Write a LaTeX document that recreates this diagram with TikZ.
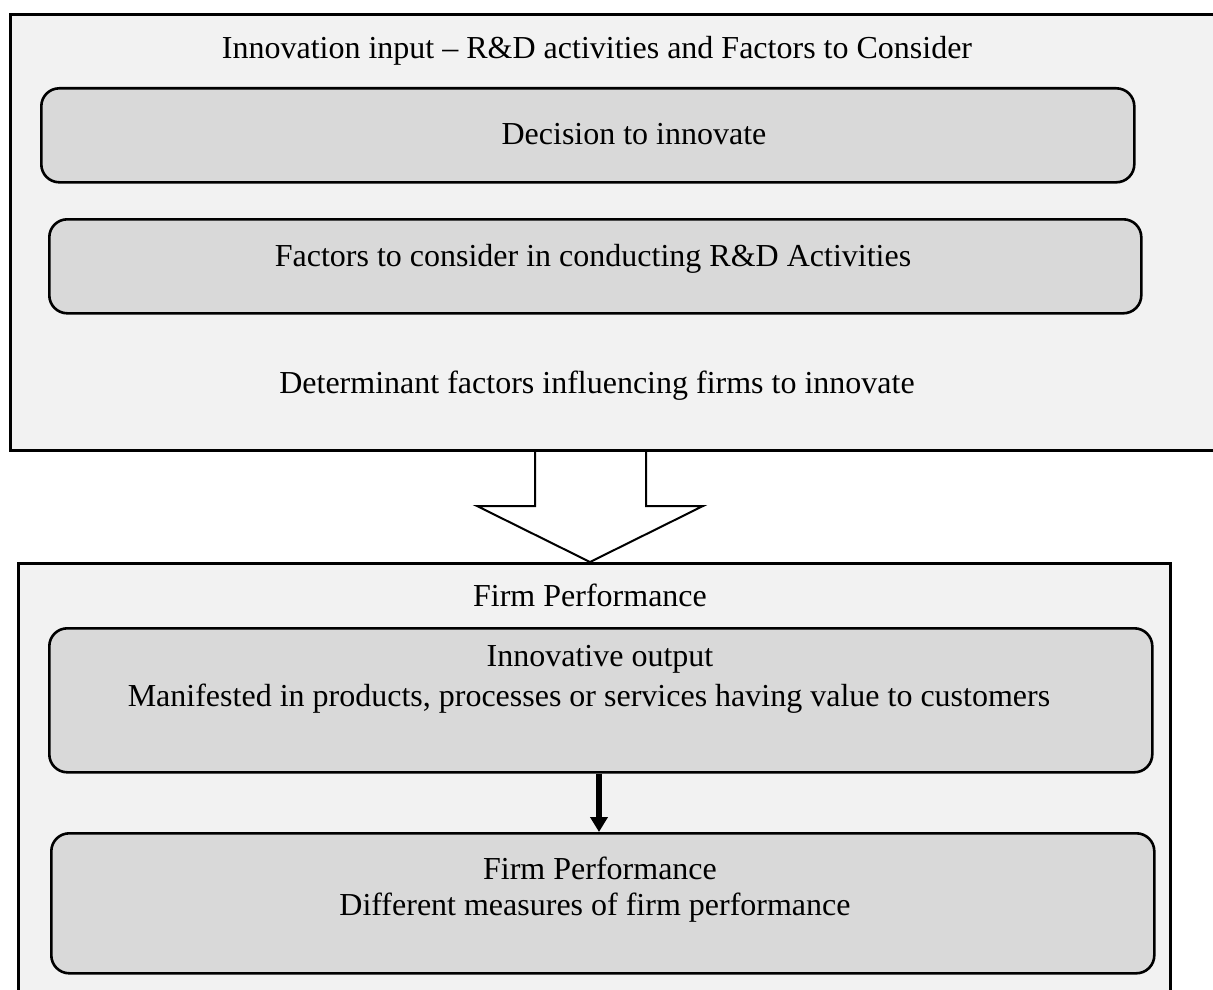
\documentclass[tikz,border=0pt]{standalone}
\usepackage{fontspec}
\setmainfont{Liberation Serif}
\usetikzlibrary{arrows.meta,backgrounds}
\definecolor{panelgray}{HTML}{F2F2F2}
\definecolor{boxgray}{HTML}{D9D9D9}
\begin{document}
\begin{tikzpicture}[x=1pt,y=-1pt,
  panel/.style={draw=black,line width=2.6pt,fill=panelgray,rectangle,
    anchor=north west,inner sep=0pt},
  roundbox/.style={draw=black,line width=2.6pt,fill=boxgray,rectangle,
    rounded corners=18pt,anchor=north west,inner sep=0pt},
  label/.style={inner sep=0pt,anchor=base,font=\fontsize{32}{38}\selectfont},
  flow/.style={line width=6pt,-{Triangle[width=17pt,length=15pt]}}]
  \clip (0,0) rectangle (1213,990);
  \useasboundingbox (0,0) rectangle (1213,990);

  % input panel and its boxes
  \node[panel,minimum width=1230pt,minimum height=436pt] (inpanel) at (9,13) {};
  \node[roundbox,minimum width=1093pt,minimum height=94pt] (decision) at (40,87) {};
  \node[roundbox,minimum width=1092pt,minimum height=94pt] (factors) at (48,218) {};
  \node[label] (inTitle) at (597,59) {Innovation input – R\&D activities and Factors to Consider};
  \node[label] (decTxt) at (634,144) {Decision to innovate};
  \node[label] (facTxt) at (593,266) {Factors to consider in conducting R\&D Activities};
  \node[label] (detTxt) at (597,393) {Determinant factors influencing firms to innovate};

  % performance panel and its boxes
  \node[panel,minimum width=1152pt,minimum height=460pt] (perfpanel) at (17,562) {};
  \node[roundbox,minimum width=1103pt,minimum height=144pt] (output) at (48,627) {};
  \node[roundbox,minimum width=1103pt,minimum height=140pt] (perf) at (50,832) {};
  \node[label] (perfTitle) at (590,606) {Firm Performance};
  \node[label] (outTxt) at (600,666) {Innovative output};
  \node[label] (outSub) at (589,706) {Manifested in products, processes or services having value to customers};
  \node[label] (perfTxt) at (600,879) {Firm Performance};
  \node[label] (perfSub) at (595,915) {Different measures of firm performance};

  % block arrow between the panels
  \begin{scope}[on background layer]
    \fill[white] (535,449) -- (535,506) -- (477,506) -- (590,562)
      -- (703,506) -- (646,506) -- (646,449) -- cycle;
    \draw[line width=2pt,line join=miter] (535,449) -- (535,506) -- (477,506)
      -- (590,562) -- (703,506) -- (646,506) -- (646,449);
  \end{scope}

  % connector from output to performance
  \draw[flow] (output.south -| 599,0) -- (perf.north -| 599,0);
\end{tikzpicture}
\end{document}
